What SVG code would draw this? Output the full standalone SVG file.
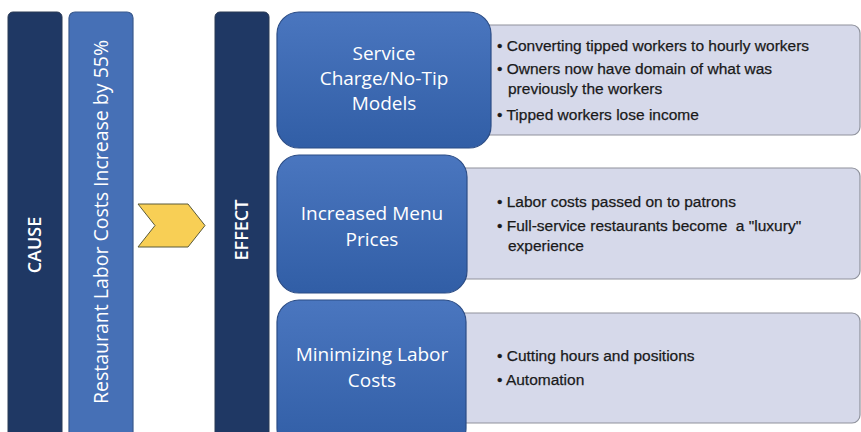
<svg xmlns="http://www.w3.org/2000/svg" width="861" height="432" viewBox="0 0 861 432">
<defs>
<linearGradient id="blueg" x1="0" y1="0" x2="0" y2="1">
<stop offset="0" stop-color="#4a76bf"/>
<stop offset="1" stop-color="#315ea6"/>
</linearGradient>
<style>
.dark{fill:#1f3864;stroke:#2b3a55;stroke-width:1}
.mid{fill:#4670b6;stroke:#3a5a8e;stroke-width:1.2}
.blue{fill:url(#blueg);stroke:#2b4c85;stroke-width:1.2}
.lite{fill:#d6d9ea;stroke:#8f929c;stroke-width:1.2}
.vt{font-family:"Open Sans","Liberation Sans",sans-serif;font-weight:600;fill:#ffffff;text-anchor:middle}
.vr{font-family:"Open Sans","Liberation Sans",sans-serif;font-weight:400;fill:#ffffff;text-anchor:middle}
.ct{font-family:"Open Sans","Liberation Sans",sans-serif;font-weight:500;font-size:19px;fill:#ffffff;text-anchor:middle}
.bt{font-family:"Liberation Sans",Arial,sans-serif;font-size:15.5px;fill:#1a1a1a;stroke:#1a1a1a;stroke-width:0.25;white-space:pre}
</style>
</defs>
<rect width="861" height="432" fill="#ffffff"/>
<g id="cause">
<rect class="dark" x="8" y="12" width="54" height="430" rx="5"/>
<text class="vt" font-size="18" transform="translate(41,245) rotate(-90)">CAUSE</text>
</g>
<g id="labor-costs">
<rect class="mid" x="69" y="12" width="64" height="430" rx="6"/>
<text class="vr" font-size="19.5" transform="translate(108,222) rotate(-90)">Restaurant Labor Costs Increase by 55%</text>
</g>
<g id="connectors">
<polygon points="138,204 188,204 205,225.5 188,247 138,247 155,225.5" fill="#f8cf55" stroke="#5a5a3a" stroke-width="1"/>
</g>
<g id="effect">
<rect class="dark" x="215" y="12" width="54" height="430" rx="5"/>
<text class="vt" font-size="18" transform="translate(248,230) rotate(-90)">EFFECT</text>
</g>
<g id="service-detail">
<rect class="lite" x="470" y="25" width="390" height="110" rx="8"/>
<text class="bt" x="497" y="51">• Converting tipped workers to hourly workers</text>
<text class="bt" x="497" y="74">• Owners now have domain of what was</text>
<text class="bt" x="508" y="94">previously the workers</text>
<text class="bt" x="497" y="120">• Tipped workers lose income</text>
</g>
<g id="service">
<rect class="blue" x="277" y="12" width="214" height="136" rx="22"/>
<text class="ct" x="384" y="60">Service</text>
<text class="ct" x="384" y="85">Charge/No-Tip</text>
<text class="ct" x="384" y="110">Models</text>
</g>
<g id="menu-detail">
<rect class="lite" x="450" y="168" width="410" height="111" rx="8"/>
<text class="bt" x="497" y="207">• Labor costs passed on to patrons</text>
<text class="bt" x="497" y="231">• Full-service restaurants become  a "luxury"</text>
<text class="bt" x="508" y="251">experience</text>
</g>
<g id="menu">
<rect class="blue" x="277" y="155" width="190" height="138" rx="22"/>
<text class="ct" x="372" y="220">Increased Menu</text>
<text class="ct" x="372" y="246">Prices</text>
</g>
<g id="labor-detail">
<rect class="lite" x="450" y="313" width="410" height="110" rx="8"/>
<text class="bt" x="497" y="361">• Cutting hours and positions</text>
<text class="bt" x="497" y="385">• Automation</text>
</g>
<g id="labor">
<rect class="blue" x="277" y="300" width="189" height="150" rx="22"/>
<text class="ct" x="372" y="361">Minimizing Labor</text>
<text class="ct" x="372" y="387">Costs</text>
</g>
</svg>
